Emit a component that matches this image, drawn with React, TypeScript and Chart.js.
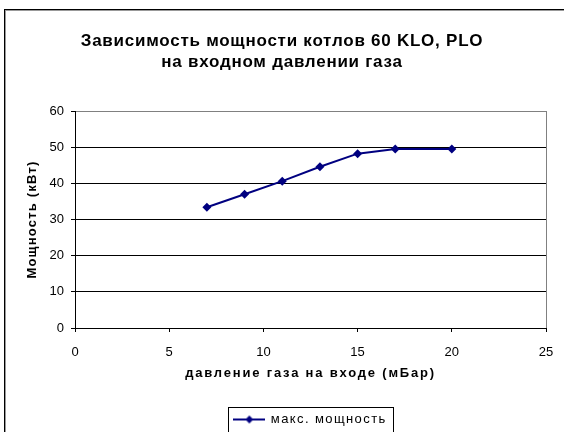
import React, { useEffect, useRef } from 'react';
import { Chart, registerables } from 'chart.js';

Chart.register(...registerables);

const pressure = [7, 9, 11, 13, 15, 17, 20];
const power = [33.4, 37.0, 40.6, 44.6, 48.2, 49.5, 49.5];
const chartTitle = ['Зависимость мощности котлов 60 KLO, PLO', 'на входном давлении газа'];
const xAxisTitle = 'давление газа на входе (мБар)';
const yAxisTitle = 'Мощность (кВт)';
const seriesLabel = 'макс. мощность';
const xTicks = [0, 5, 10, 15, 20, 25];
const yTicks = [0, 10, 20, 30, 40, 50, 60];

const FONT = "'Liberation Sans', Arial, sans-serif";
const NAVY = '#000080';

// letter spacing (px) applied to the wide, Excel-like texts
const SPACING: Record<string, number> = {
  [chartTitle[0]]: 0.75,
  [chartTitle[1]]: 0.75,
  [xAxisTitle]: 1.8,
  [yAxisTitle]: 1.2,
  [seriesLabel]: 1.4,
};

function makeLegendMarker() {
  const c = document.createElement('canvas');
  c.width = 32;
  c.height = 10;
  const g = c.getContext('2d');
  if (g) {
    g.strokeStyle = NAVY;
    g.lineWidth = 2;
    g.beginPath();
    g.moveTo(0, 5);
    g.lineTo(32, 5);
    g.stroke();
    g.fillStyle = NAVY;
    g.beginPath();
    g.moveTo(16, 1);
    g.lineTo(20, 5);
    g.lineTo(16, 9);
    g.lineTo(12, 5);
    g.closePath();
    g.fill();
  }
  return c;
}

function patchSpacing(ctx: any) {
  const origFill = ctx.fillText.bind(ctx);
  const origMeasure = ctx.measureText.bind(ctx);
  ctx.fillText = (t: any, x: number, y: number, mw?: number) => {
    const s = SPACING[String(t)];
    if (!s) return mw === undefined ? origFill(t, x, y) : origFill(t, x, y, mw);
    const prev = ctx.letterSpacing;
    ctx.letterSpacing = s + 'px';
    if (mw === undefined) origFill(t, x, y);
    else origFill(t, x, y, mw);
    ctx.letterSpacing = prev;
  };
  ctx.measureText = (t: any) => {
    const s = SPACING[String(t)];
    if (!s) return origMeasure(t);
    const prev = ctx.letterSpacing;
    ctx.letterSpacing = s + 'px';
    const m = origMeasure(t);
    ctx.letterSpacing = prev;
    return m;
  };
}

const legendFrame = {
  id: 'legendFrame',
  afterDraw(chart: any) {
    const lg = chart.legend;
    if (!lg || !lg.legendHitBoxes || !lg.legendHitBoxes.length) return;
    const hb = lg.legendHitBoxes[0];
    const ctx = chart.ctx;
    ctx.save();
    ctx.strokeStyle = '#000';
    ctx.lineWidth = 1;
    const l = Math.round(hb.left - 6) + 0.5;
    const r = Math.round(hb.left + hb.width + 6) + 0.5;
    const t = Math.round(hb.top - 6) + 0.5;
    const b = chart.height + 5;
    ctx.strokeRect(l, t, r - l, b - t);
    ctx.restore();
  },
};

export default function App() {
  const ref = useRef<HTMLCanvasElement | null>(null);

  useEffect(() => {
    if (!ref.current) return;
    const c2d = ref.current.getContext('2d');
    if (c2d) patchSpacing(c2d);
    const marker = makeLegendMarker();
    const chart = new Chart(ref.current, {
      type: 'scatter',
      data: {
        datasets: [
          {
            label: seriesLabel,
            data: pressure.map((x, i) => ({ x, y: power[i] })),
            showLine: true,
            borderColor: NAVY,
            backgroundColor: NAVY,
            borderWidth: 2,
            pointStyle: 'rectRot',
            pointRadius: 4.5,
            pointBorderWidth: 0,
          },
        ],
      },
      options: {
        responsive: false,
        animation: false,
        devicePixelRatio: 1,
        layout: { padding: 0 },
        plugins: {
          title: {
            display: true,
            text: chartTitle,
            color: '#000',
            font: { family: FONT, size: 17, weight: 'bold', lineHeight: 21 / 17 },
            padding: { top: 31, bottom: 38 },
          },
          legend: {
            position: 'bottom',
            fullSize: false,
            labels: {
              usePointStyle: true,
              pointStyleWidth: 30,
              padding: 10,
              color: '#000',
              font: { family: FONT, size: 13 },
              generateLabels: () => [
                {
                  text: seriesLabel,
                  pointStyle: marker,
                  fillStyle: NAVY,
                  strokeStyle: NAVY,
                  lineWidth: 0,
                  hidden: false,
                  datasetIndex: 0,
                } as any,
              ],
            },
          },
          tooltip: { enabled: false },
        },
        scales: {
          x: {
            type: 'linear',
            min: 0,
            max: 25,
            afterBuildTicks: (s: any) => {
              s.ticks = xTicks.map((v) => ({ value: v }));
            },
            afterFit: (s: any) => {
              s.height = 75;
              s.paddingLeft = 0;
              s.paddingRight = 18;
            },
            ticks: { color: '#000', font: { family: FONT, size: 13 }, padding: 13 },
            grid: {
              drawOnChartArea: true,
              color: (ctx: any) => (ctx.tick && ctx.tick.value === 25 ? '#808080' : 'rgba(0,0,0,0)'),
              tickColor: '#000',
              tickLength: 4,
              lineWidth: 1,
            },
            border: { display: true, color: '#000', width: 1 },
            title: {
              display: true,
              text: xAxisTitle,
              color: '#000',
              font: { family: FONT, size: 13, weight: 'bold' },
              padding: { top: 0, bottom: 22 },
            },
          },
          y: {
            type: 'linear',
            min: 0,
            max: 60,
            afterBuildTicks: (s: any) => {
              s.ticks = yTicks.map((v) => ({ value: v }));
            },
            afterFit: (s: any) => {
              s.width = 75;
            },
            ticks: { color: '#000', font: { family: FONT, size: 13 }, padding: 7 },
            grid: {
              color: (ctx: any) => (ctx.tick && ctx.tick.value === 60 ? '#808080' : '#000'),
              tickColor: '#000',
              tickLength: 4,
              lineWidth: 1,
            },
            border: { display: true, color: '#000', width: 1 },
            title: {
              display: true,
              text: yAxisTitle,
              color: '#000',
              font: { family: FONT, size: 13, weight: 'bold' },
              padding: { top: 25, bottom: 0 },
            },
          },
        },
      } as any,
      plugins: [legendFrame],
    });
    return () => chart.destroy();
  }, []);

  return (
    <div
      style={{
        position: 'fixed',
        left: 0,
        top: 0,
        width: 564,
        height: 432,
        overflow: 'hidden',
        background: '#fff',
      }}
    >
      <div
        style={{
          position: 'absolute',
          left: 4,
          top: 9,
          width: 1000,
          height: 1000,
          borderLeft: '1px solid #000',
          borderTop: '1px solid #000',
          boxShadow: 'inset 1px 1px 0 #999',
        }}
      />
      <canvas
        ref={ref}
        width={564}
        height={436}
        style={{ position: 'absolute', left: 0, top: 0, width: 564, height: 436 }}
      />
    </div>
  );
}
